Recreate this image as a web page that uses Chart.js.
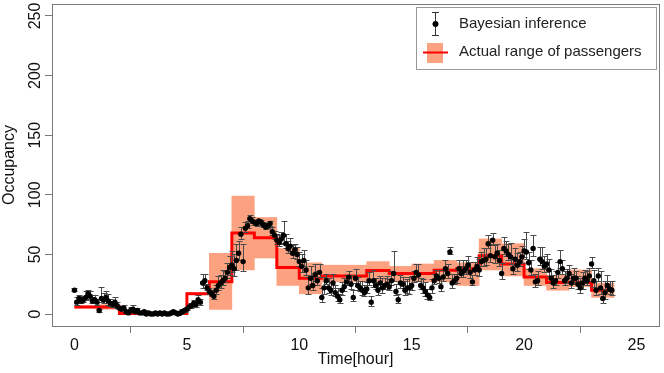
<!DOCTYPE html>
<html>
<head>
<meta charset="utf-8">
<script src="https://cdn.jsdelivr.net/npm/chart.js@4.4.0/dist/chart.umd.min.js"></script>
<style>
  html, body { margin: 0; padding: 0; background: #fff; }
  #wrap { width: 664px; height: 373px; }
</style>
</head>
<body>
<div id="wrap"><canvas id="chart" width="664" height="373"></canvas></div>
<script>
// ── Данные ────────────────────────────────────────────────
const xTicks = [0, 5, 10, 15, 20, 25]
const yTicks = [0, 50, 100, 150, 200, 250]

// начало каждого часа и уровень красной ступеньки
const hourStarts = [0, 1, 2, 3, 4, 5, 6, 7, 8, 9, 10, 11, 12, 13, 14, 15, 16, 17, 18, 19, 20, 21, 22, 23]
const stepLevel  = [6, 6, 0.5, 0.5, 0.5, 17, 27, 68, 64, 39, 30, 32, 32, 36.5, 34, 34, 36.7, 38, 49, 42, 31, 26.5, 26.5, 20]
// фактический диапазон пассажиров за час
const rangeLow   = [5, 4, 0, 0, 0, 17, 4, 37, 47, 24, 17, 27, 27, 27, 27, 27, 27, 24, 37, 32, 24, 20, 23, 14]
const rangeHigh  = [7, 8, 2, 1, 1, 18, 51, 99, 81, 55, 43, 41, 41, 44, 40, 42, 45, 43, 63, 59, 38, 32.5, 37, 26]

// байесовская оценка: 10 отсчётов на час
const occ = [
  20, 10, 13, 11, 12, 14, 17, 15, 11, 12,
  10, 3, 13, 12, 14, 11, 9, 8, 10, 7,
  5, 4, 5, 2, 1, 3, 4, 2, 3, 1,
  1, 2, 0, 1, 0, 0, 1, 0, 1, 0,
  1, 0, 0, 1, 2, 1, 0, 1, 2, 3,
  4, 6, 7, 9, 8, 12, 10, 26, 28, 22,
  19, 17, 15, 20, 24, 26, 28, 30, 35, 39,
  41, 38, 45, 51, 67, 44, 72, 74, 80, 78,
  77, 76, 78, 77, 75, 73, 74, 76, 69, 66,
  62, 60, 63, 66, 59, 55, 57, 51, 54, 50,
  44, 40, 45, 37, 22, 30, 24, 33, 28, 35,
  14, 22, 28, 22, 20, 26, 18, 15, 12, 20,
  23, 27, 31, 25, 14, 30, 24, 22, 20, 18,
  21, 28, 10, 28, 24, 20, 26, 22, 24, 25,
  23, 28, 34, 19, 12, 26, 25, 20, 22, 22,
  24, 30, 35, 33, 24, 22, 19, 16, 14, 22,
  28, 32, 30, 23, 31, 38, 34, 52, 26, 28,
  30, 38, 34, 36, 38, 41, 35, 27, 37, 40,
  37, 44, 45, 46, 59, 49, 62, 48, 51, 45,
  34, 55, 53, 50, 48, 38, 46, 41, 44, 48,
  53, 52, 43, 37, 55, 27, 28, 46, 44, 40,
  42, 37, 30, 26, 28, 35, 44, 38, 28, 30,
  34, 26, 30, 30, 25, 22, 26, 30, 28, 32,
  42, 28, 20, 32, 22, 13, 18, 24, 21, 20
]
const errHi = [
  2, 4, 3, 3, 3, 5, 3, 4, 3, 4,
  3, 1, 10, 6, 5, 6, 4, 3, 4, 3,
  2, 2, 3, 1, 1, 3, 4, 2, 2, 1,
  1, 1, 1, 1, 1, 1, 1, 1, 1, 1,
  1, 1, 1, 1, 1, 1, 1, 1, 2, 2,
  2, 2, 2, 3, 3, 4, 3, 8, 6, 3,
  3, 3, 4, 4, 8, 7, 9, 6, 8, 10,
  12, 12, 14, 10, 6, 15, 5, 4, 3, 3,
  2, 2, 2, 2, 2, 3, 2, 2, 4, 4,
  5, 6, 6, 12, 8, 6, 7, 7, 5, 6,
  8, 10, 9, 8, 9, 10, 8, 9, 8, 7,
  8, 9, 6, 8, 7, 8, 6, 7, 5, 7,
  7, 6, 5, 8, 6, 8, 7, 6, 8, 6,
  6, 7, 5, 9, 6, 7, 6, 8, 6, 7,
  6, 8, 19, 6, 5, 7, 6, 8, 7, 9,
  8, 6, 7, 9, 6, 7, 8, 5, 4, 7,
  6, 5, 7, 8, 6, 7, 8, 4, 8, 6,
  8, 7, 6, 9, 7, 8, 9, 6, 7, 8,
  9, 8, 10, 9, 7, 9, 6, 10, 8, 9,
  9, 10, 8, 9, 12, 8, 9, 10, 8, 9,
  10, 17, 9, 8, 11, 7, 8, 10, 12, 9,
  8, 9, 8, 7, 8, 9, 10, 7, 8, 8,
  7, 8, 9, 6, 7, 8, 9, 7, 8, 7,
  6, 9, 8, 7, 14, 8, 10, 9, 7, 8
]
const errLo = [
  1, 2, 2, 2, 2, 2, 2, 2, 2, 2,
  2, 1, 3, 3, 2, 3, 2, 2, 2, 2,
  1, 1, 2, 1, 1, 1, 2, 1, 1, 1,
  1, 1, 1, 1, 1, 1, 1, 1, 1, 1,
  1, 1, 1, 1, 1, 1, 1, 1, 1, 1,
  1, 1, 2, 2, 2, 3, 2, 4, 4, 2,
  2, 2, 2, 3, 4, 4, 4, 3, 5, 6,
  6, 6, 8, 6, 4, 8, 3, 2, 2, 2,
  2, 2, 2, 2, 2, 2, 2, 2, 3, 3,
  3, 3, 4, 6, 4, 4, 4, 4, 3, 4,
  4, 5, 5, 4, 5, 5, 4, 5, 4, 4,
  4, 5, 3, 4, 4, 4, 3, 4, 3, 4,
  4, 3, 3, 4, 3, 4, 4, 3, 4, 3,
  3, 4, 3, 5, 3, 4, 3, 4, 3, 4,
  3, 4, 6, 3, 3, 4, 3, 4, 4, 5,
  4, 3, 4, 5, 3, 4, 4, 3, 2, 4,
  3, 3, 4, 4, 3, 4, 4, 2, 4, 3,
  4, 4, 3, 5, 4, 4, 5, 3, 4, 4,
  5, 4, 5, 5, 4, 5, 3, 5, 4, 5,
  5, 5, 4, 5, 6, 4, 5, 5, 4, 5,
  5, 6, 5, 4, 6, 4, 4, 5, 6, 5,
  4, 5, 4, 4, 4, 5, 5, 4, 4, 4,
  4, 4, 5, 3, 4, 4, 5, 4, 4, 4,
  3, 5, 4, 4, 5, 4, 5, 5, 4, 4
]
const times = occ.map((_, i) => i / 10)

// ── Стиль ─────────────────────────────────────────────────
const FONT      = "'Liberation Sans', Arial, sans-serif"
const AXIS_GRAY = '#7a7a7a'
const SALMON    = 'rgb(252,162,128)'
const RED       = '#ff0000'

// усы ошибок под точками
const errorBars = {
  id: 'errorBars',
  beforeDatasetDraw(chart, args) {
    if (args.index !== 0) return
    const { ctx, scales: { x, y } } = chart
    ctx.save()
    ctx.strokeStyle = '#4a4a4a'
    ctx.lineWidth = 1
    ctx.beginPath()
    occ.forEach((v, i) => {
      const px  = Math.round(x.getPixelForValue(times[i])) + 0.5
      const top = Math.round(y.getPixelForValue(v + errHi[i])) + 0.5
      const bot = Math.round(y.getPixelForValue(v - errLo[i])) + 0.5
      ctx.moveTo(px, top); ctx.lineTo(px, bot)
      ctx.moveTo(px - 3, top); ctx.lineTo(px + 3, top)
      ctx.moveTo(px - 3, bot); ctx.lineTo(px + 3, bot)
    })
    ctx.stroke()
    ctx.restore()
  }
}

// рамка, подписи оси Y и легенда в стиле R
const frame = {
  id: 'frame',
  afterDraw(chart) {
    const { ctx, chartArea: a, scales: { y } } = chart
    ctx.save()
    ctx.strokeStyle = AXIS_GRAY
    ctx.lineWidth = 1
    ctx.strokeRect(Math.round(a.left) + 0.5, Math.round(a.top) + 0.5,
      Math.round(a.right - a.left), Math.round(a.bottom - a.top))

    ctx.fillStyle = '#111'
    ctx.font = `16px ${FONT}`
    ctx.textAlign = 'center'
    ctx.textBaseline = 'alphabetic'
    yTicks.forEach(v => {
      ctx.save()
      ctx.translate(40, y.getPixelForValue(v))
      ctx.rotate(-Math.PI / 2)
      ctx.fillText(String(v), 0, 0)
      ctx.restore()
    })

    // легенда
    ctx.strokeStyle = '#9a9a9a'
    ctx.strokeRect(416.5, 7.5, 240, 62)
    ctx.strokeStyle = '#333'
    ctx.beginPath()
    ctx.moveTo(435.5, 12.5); ctx.lineTo(435.5, 35.5)
    ctx.moveTo(432, 12.5); ctx.lineTo(439, 12.5)
    ctx.moveTo(432, 35.5); ctx.lineTo(439, 35.5)
    ctx.stroke()
    ctx.fillStyle = '#000'
    ctx.beginPath(); ctx.arc(435.5, 24, 3, 0, Math.PI * 2); ctx.fill()
    ctx.fillStyle = SALMON
    ctx.fillRect(427, 43, 16, 20)
    ctx.strokeStyle = RED
    ctx.lineWidth = 2
    ctx.beginPath(); ctx.moveTo(423, 52.5); ctx.lineTo(448, 52.5); ctx.stroke()

    ctx.fillStyle = '#222'
    ctx.font = `15px ${FONT}`
    ctx.textAlign = 'left'
    ctx.textBaseline = 'middle'
    ctx.fillText('Bayesian inference', 459, 24)
    ctx.fillText('Actual range of passengers', 459, 52)
    ctx.restore()
  }
}

/* global Chart */
new Chart(document.getElementById('chart'), {
  type: 'scatter',
  data: {
    datasets: [
      {
        type: 'scatter',
        data: occ.map((v, i) => ({ x: times[i], y: v })),
        pointRadius: 2.7,
        pointBackgroundColor: '#000',
        pointBorderWidth: 0,
        showLine: false
      },
      {
        type: 'line',
        data: [...hourStarts, 24].map((h, i) => ({ x: h, y: stepLevel[Math.min(i, stepLevel.length - 1)] })),
        stepped: 'before',
        borderColor: RED,
        borderWidth: 3,
        borderJoinStyle: 'miter',
        pointRadius: 0,
        fill: false
      },
      {
        type: 'bar',
        data: hourStarts.map((h, i) => ({ x: h + 0.5, y: [rangeLow[i], rangeHigh[i]] })),
        backgroundColor: SALMON,
        borderWidth: 0,
        barPercentage: 1,
        categoryPercentage: 1
      }
    ]
  },
  options: {
    responsive: false,
    animation: false,
    devicePixelRatio: 1,
    layout: { padding: { top: 2, right: 5, left: 0, bottom: 0 } },
    plugins: { legend: { display: false }, tooltip: { enabled: false } },
    scales: {
      x: {
        type: 'linear',
        min: -1, max: 26, offset: false,
        afterBuildTicks: s => { s.ticks = xTicks.map(v => ({ value: v })) },
        ticks: { font: { family: FONT, size: 16 }, color: '#111', padding: 3, maxRotation: 0, autoSkip: false },
        grid: { drawOnChartArea: false, drawTicks: true, tickLength: 7, color: AXIS_GRAY },
        border: { display: false },
        title: { display: true, text: 'Time[hour]', font: { family: FONT, size: 16 }, color: '#111', padding: { top: 0, bottom: 4 } },
        afterFit: s => { s.height = 47 }
      },
      y: {
        type: 'linear',
        min: -10, max: 260,
        afterBuildTicks: s => { s.ticks = yTicks.map(v => ({ value: v })) },
        ticks: { display: false },
        grid: { drawOnChartArea: false, drawTicks: true, tickLength: 7, color: AXIS_GRAY },
        border: { display: false },
        title: { display: true, text: 'Occupancy', font: { family: FONT, size: 16 }, color: '#111', padding: 0 },
        afterFit: s => { s.width = 52 }
      }
    }
  },
  plugins: [errorBars, frame]
})
</script>
</body>
</html>
